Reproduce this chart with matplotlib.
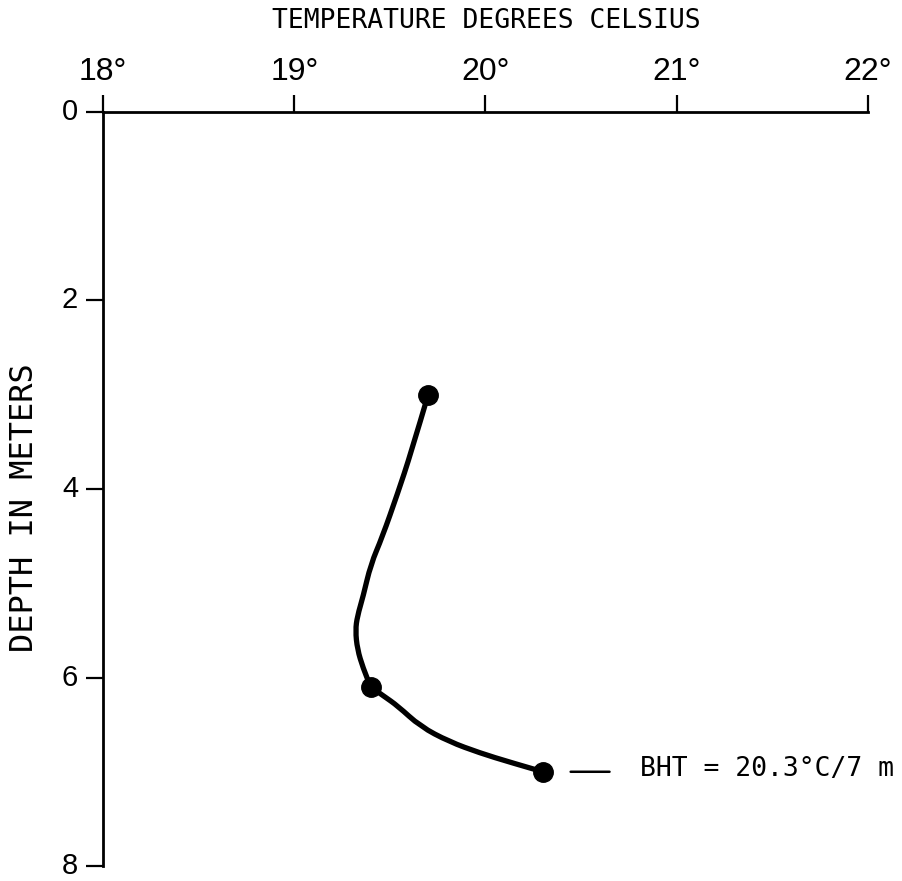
import matplotlib
matplotlib.use("Agg")
import matplotlib.pyplot as plt
from matplotlib.path import Path
from matplotlib.patches import PathPatch
from matplotlib.transforms import ScaledTranslation

# Measured temperatures (deg C) and depths (m)
meas_temp = [19.70, 19.40, 20.30]
meas_depth = [3.0, 6.1, 7.0]

# Hand-drawn temperature profile through the measurements
curve_temp = [19.70, 19.61, 19.54, 19.46, 19.40, 19.36, 19.33, 19.32, 19.33,
              19.36, 19.40, 19.47, 19.54, 19.66, 19.81, 19.97, 20.13, 20.30]
curve_depth = [3.0, 3.62, 4.05, 4.51, 4.80, 5.14, 5.35, 5.50, 5.70,
               5.90, 6.10, 6.20, 6.30, 6.52, 6.68, 6.80, 6.90, 7.0]

x_ticks = [18, 19, 20, 21, 22]
x_ticklabels = ["18°", "19°", "20°", "21°", "22°"]
y_ticks = [0, 2, 4, 6, 8]
y_ticklabels = ["0", "2", "4", "6", "8"]

bht_label = "BHT = 20.3°C/7 m"

num_font = ["Liberation Sans", "DejaVu Sans"]
mono_font = ["DejaVu Sans Mono", "DejaVu Sans"]

fig = plt.figure(figsize=(9.03, 8.81), dpi=100)
ax = fig.add_axes([0.1141, 0.017, 0.9612 - 0.1141, 0.8729 - 0.017])

# Smooth profile: quadratic segments guided by the traced points
pts = list(zip(curve_temp, curve_depth))
verts = [pts[0]]
codes = [Path.MOVETO]
for i in range(1, len(pts) - 1):
    nxt = pts[i + 1]
    end = nxt if i == len(pts) - 2 else ((pts[i][0] + nxt[0]) / 2,
                                         (pts[i][1] + nxt[1]) / 2)
    verts += [pts[i], end]
    codes += [Path.CURVE3, Path.CURVE3]
ax.add_patch(PathPatch(Path(verts, codes), facecolor="none",
                       edgecolor="black", lw=3.8, capstyle="round",
                       joinstyle="round", clip_on=False))
ax.plot(meas_temp, meas_depth, "o", color="black", ms=14, clip_on=False)

ax.set_xlim(18, 22)
ax.set_ylim(8, 0)

ax.xaxis.tick_top()
ax.set_xticks(x_ticks)
ax.set_xticklabels(x_ticklabels, family=num_font, fontsize=23)
ax.set_yticks(y_ticks)
ax.set_yticklabels(y_ticklabels, family=num_font, fontsize=21)
ax.tick_params(axis="both", direction="out", length=12, width=1.6,
               color="black")
ax.tick_params(axis="x", pad=6)
ax.tick_params(axis="y", pad=6)

# Sit the depth numbers on their baseline, nudged down to centre on the tick
shift = ScaledTranslation(0, -8 / 100, fig.dpi_scale_trans)
for lbl in ax.get_yticklabels():
    lbl.set_verticalalignment("baseline")
    lbl.set_transform(lbl.get_transform() + shift)

for side in ("right", "bottom"):
    ax.spines[side].set_visible(False)
for side in ("left", "top"):
    ax.spines[side].set_linewidth(2.0)

fig.text(0.538, 0.976, "TEMPERATURE DEGREES CELSIUS", ha="center",
         va="center", family=mono_font, fontsize=19, color="black")
fig.text(0.027, 1 - 508 / 881, "DEPTH IN METERS", ha="center", va="center",
         rotation=90, family=mono_font, fontsize=23, color="black")

# Bottom-hole temperature callout
bt, bd = meas_temp[-1], meas_depth[-1]
ax.annotate("", xy=(bt, bd), xytext=(48, 0), textcoords="offset points",
            arrowprops=dict(arrowstyle="-", lw=1.8, color="black",
                            shrinkA=0, shrinkB=20), annotation_clip=False)
ax.annotate(bht_label, xy=(bt, bd), xytext=(70, 2),
            textcoords="offset points", ha="left", va="center",
            family=mono_font, fontsize=19, color="black",
            annotation_clip=False)

fig.savefig("out.png", dpi=100, facecolor="white")
